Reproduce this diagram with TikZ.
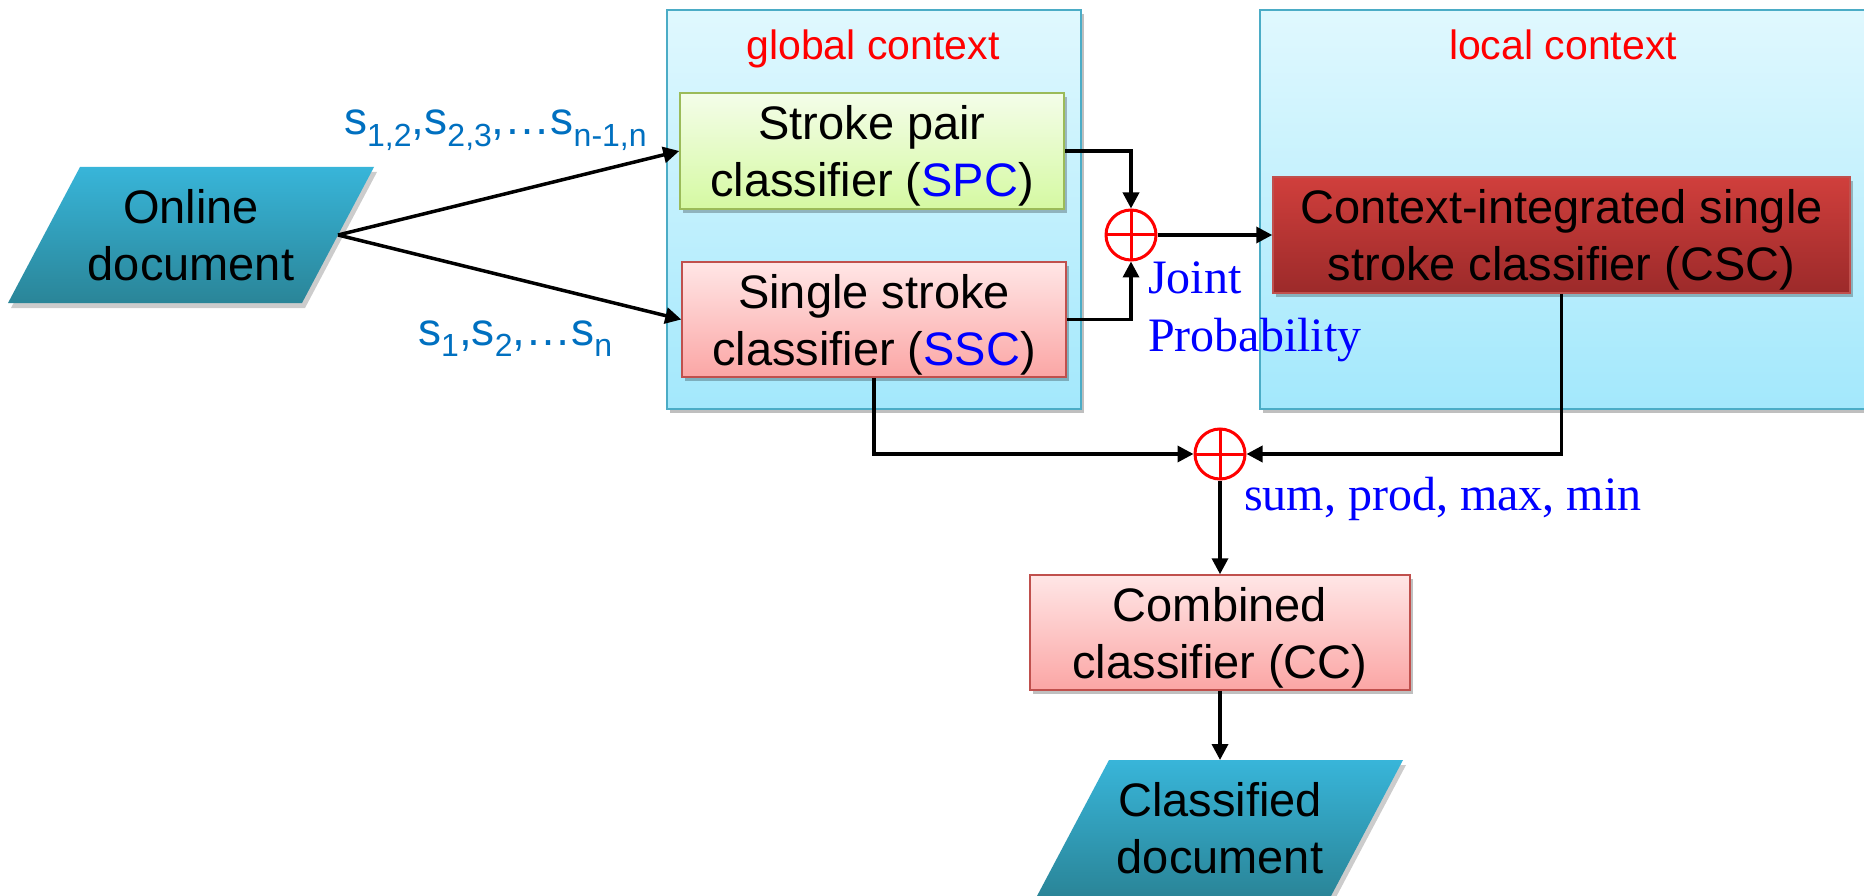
\documentclass[tikz,border=0pt]{standalone}
\usepackage{fontspec}
\setmainfont{Liberation Sans}
\newfontfamily\tms{Liberation Serif}
\usetikzlibrary{arrows.meta,shadows}
\definecolor{ctxtop}{HTML}{E0F8FE}
\definecolor{ctxbot}{HTML}{A3E8FC}
\definecolor{ctxline}{HTML}{4BACC6}
\definecolor{grtop}{HTML}{F4FDE9}
\definecolor{grbot}{HTML}{D5F9A2}
\definecolor{grline}{HTML}{9BBB59}
\definecolor{pktop}{HTML}{FFE6E6}
\definecolor{pkbot}{HTML}{FBA6A5}
\definecolor{pkline}{HTML}{C0504D}
\definecolor{drtop}{HTML}{D03F3C}
\definecolor{drbot}{HTML}{9C2A2A}
\definecolor{drline}{HTML}{C0504D}
\definecolor{doctop}{HTML}{38B5D9}
\definecolor{docbot}{HTML}{2A8598}
\definecolor{lblblue}{HTML}{0070C0}
\definecolor{pureblue}{HTML}{0000FF}
\definecolor{purered}{HTML}{FF0000}
\newcommand\subs[2][12pt]{\raisebox{-#1}{\fontsize{32}{32}\selectfont #2}}
\begin{document}
\begin{tikzpicture}[x=1pt,y=-1pt,
  shad/.style={drop shadow={shadow xshift=3pt,shadow yshift=-4pt,opacity=0.25,fill=black}},
  ctx/.style={rectangle,draw=ctxline,line width=1.5pt,top color=ctxtop,bottom color=ctxbot,inner sep=0pt,shad},
  clf/.style={rectangle,inner sep=0pt,align=center,text depth=0pt,font=\fontsize{47}{57}\selectfont,line width=1.5pt,shad},
  greenbox/.style={draw=grline,top color=grtop,bottom color=grbot},
  pinkbox/.style={draw=pkline,top color=pktop,bottom color=pkbot},
  darkbox/.style={draw=drline,top color=drtop,bottom color=drbot},
  docfill/.style={top color=doctop,bottom color=docbot},
  docshad/.style={fill=black,opacity=0.2},
  doctext/.style={inner sep=0pt,align=center,font=\fontsize{47}{57}\selectfont},
  ttl/.style={inner sep=0pt,text=purered,font=\fontsize{41}{41}\selectfont},
  lbl/.style={inner sep=0pt,text=lblblue,font=\fontsize{46}{46}\selectfont},
  tlbl/.style={inner sep=0pt,text=pureblue,font=\tms\fontsize{48}{58}\selectfont},
  oplus/.style={circle,draw=purered,line width=3pt,minimum size=50pt,inner sep=0pt,
    path picture={\draw[purered,line width=3pt] (path picture bounding box.north)--(path picture bounding box.south) (path picture bounding box.west)--(path picture bounding box.east);}},
  conn/.style={line width=3.5pt,-{Triangle[length=16pt,width=16pt]}}
]
\useasboundingbox (0,0) rectangle (1864,896);
\fill[white] (0,0) rectangle (1864,896);

% context boxes
\node[ctx,minimum width=414pt,minimum height=399pt] (gctx) at (874,209.5) {};
\node[ctx,minimum width=620pt,minimum height=399pt] (lctx) at (1570,209.5) {};
\node[ttl,anchor=base] (gt) at (873,60) {global context};
\node[ttl,anchor=base] (lt) at (1563,60) {local context};

% online document
\path[docshad] (83,172) -- (377,172) -- (305,308) -- (11,308) -- cycle;
\path[docfill] (80,167) -- (374,167) -- (302,303) -- (8,303) -- cycle;
\node[doctext] (od) at (191,235) {Online\\document};
\coordinate (odE) at (338,235);

% classifiers
\node[clf,greenbox,minimum width=384pt,minimum height=116pt] (spc) at (872,151) {Stroke pair\\classifier (\textcolor{pureblue}{SPC})};
\node[clf,pinkbox,minimum width=384pt,minimum height=115pt] (ssc) at (874,319.5) {Single stroke\\classifier (\textcolor{pureblue}{SSC})};
\node[clf,darkbox,minimum width=577pt,minimum height=116pt] (csc) at (1561.5,235) {Context-integrated single\\stroke classifier (CSC)};
\node[clf,pinkbox,minimum width=380pt,minimum height=115pt] (cc) at (1220,632.5) {Combined\\classifier (CC)};

% combiners
\node[oplus] (c1) at (1131,235) {};
\node[oplus] (c2) at (1220,454) {};

% labels
\node[lbl,anchor=base west] (l1) at (344,135) {s\subs{1,2},s\subs{2,3},\ldots s\subs{n-1,n}};
\node[lbl,anchor=base west] (l2) at (418,345) {s\subs[11pt]{1},s\subs[11pt]{2},\ldots s\subs[11pt]{n}};
\node[tlbl,anchor=north west,align=left] (jp) at (1148,262) {Joint\\Probability};
\node[tlbl,anchor=base west] (agg) at (1244,510) {sum, prod, max, min};

% classified document
\path[docshad] (1112,765) -- (1406,765) -- (1334,901) -- (1040,901) -- cycle;
\path[docfill] (1109,760) -- (1403,760) -- (1331,896) -- (1037,896) -- cycle;
\node[doctext] (cd) at (1220,828) {Classified\\document};
\coordinate (cdN) at (1220,760);

% connectors
\draw[conn] (odE) -- (spc.west);
\draw[conn] (odE) -- (ssc.west);
\draw[conn] (spc.east) -| (c1.north);
\draw[conn] (ssc.east) -| (c1.south);
\draw[conn] (c1.east) -- (csc.west);
\draw[conn] (ssc.south) |- (c2.west);
\draw[conn] (csc.south) |- (c2.east);
\draw[conn] (c2.south) -- (cc.north);
\draw[conn] (cc.south) -- (cdN);
\end{tikzpicture}
\end{document}
